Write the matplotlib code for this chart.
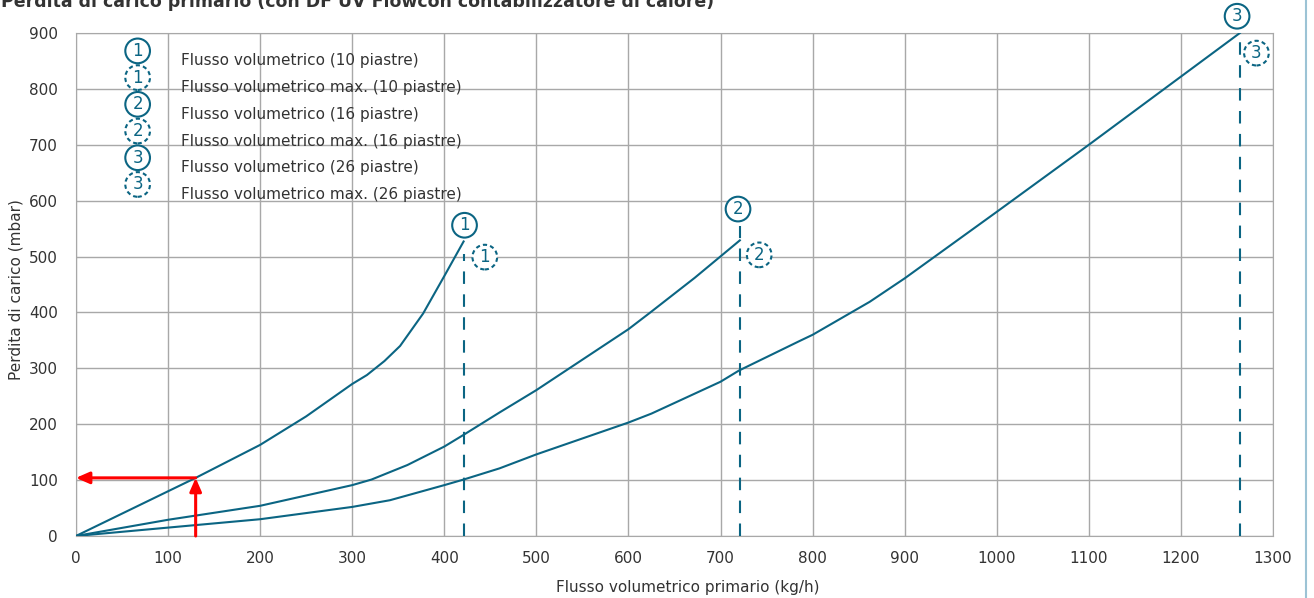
import matplotlib
matplotlib.use('Agg')
import matplotlib.pyplot as plt
from matplotlib.patches import Rectangle
from matplotlib.lines import Line2D

plt.rcParams['font.family'] = ['DejaVu Sans']

BLUE = '#0b6583'
GREY = '#a8a8a8'
TXT = '#333333'

# curve 1: 10 piastre
x10 = [0, 100, 130, 200, 250, 300, 316, 335, 352, 377, 400, 421]
y10 = [0, 80, 104, 163, 214, 272, 288, 313, 340, 398, 465, 527]
# curve 2: 16 piastre
x16 = [0, 100, 200, 300, 321, 360, 400, 421, 460, 500, 600, 623, 672, 721]
y16 = [0, 29, 54, 91, 101, 127, 160, 181, 221, 261, 370, 399, 462, 529]
# curve 3: 26 piastre
x26 = [0, 100, 200, 300, 341, 400, 421, 460, 500, 600, 625, 700, 720, 786, 800, 862, 900, 1000, 1100, 1200, 1264]
y26 = [0, 15, 30, 52, 64, 91, 101, 121, 146, 203, 219, 276, 296, 349, 360, 419, 461, 580, 700, 822, 900]

max_x = [421, 721, 1264]
max_top = [505, 555, 900]

labels_curve = [(422, 556), (719, 585), (1261, 930)]
labels_max = [(444, 499), (742, 503), (1282, 864)]

legend_txt = ['Flusso volumetrico (10 piastre)',
              'Flusso volumetrico max. (10 piastre)',
              'Flusso volumetrico (16 piastre)',
              'Flusso volumetrico max. (16 piastre)',
              'Flusso volumetrico (26 piastre)',
              'Flusso volumetrico max. (26 piastre)']
legend_num = ['1', '1', '2', '2', '3', '3']

read_x, read_y = 130, 104

fig = plt.figure(figsize=(13.14, 5.98), dpi=100)
ax = fig.add_axes([0.0578, 0.1037, 0.911, 0.8411])
ax.set_xlim(0, 1300)
ax.set_ylim(0, 900)
ax.set_xticks(range(0, 1301, 100))
ax.set_yticks(range(0, 901, 100))
ax.grid(True, color=GREY, lw=1, zorder=0)
ax.tick_params(length=0, labelsize=11, labelcolor=TXT)
ax.tick_params(axis='x', pad=11)
ax.tick_params(axis='y', pad=13)
for s in ax.spines.values():
    s.set_color(GREY)
ax.set_xlabel('Flusso volumetrico primario (kg/h)', fontsize=11, color=TXT, va='center')
ax.xaxis.set_label_coords(0.511, -0.103)
ax.set_ylabel('Perdita di carico (mbar)', fontsize=11, color=TXT, va='center')
ax.yaxis.set_label_coords(-0.050, 0.49)

# legend box
ax.add_patch(Rectangle((42, 592), 386, 298, fc='white', ec='none', zorder=1))
for i in range(6):
    yi = 868 - i * 47.8
    ls = '-' if i % 2 == 0 else (0, (2, 1.5))
    ax.text(67, yi, legend_num[i], fontsize=12, color=BLUE, ha='center', va='center', zorder=3,
            bbox=dict(boxstyle='circle,pad=0.2', fc='white', ec=BLUE, lw=1.5, ls=ls))
    ax.text(114, yi - 18, legend_txt[i], fontsize=11, color=TXT, ha='left', va='center', zorder=3)

for xs, ys in [(x10, y10), (x16, y16), (x26, y26)]:
    ax.plot(xs, ys, color=BLUE, lw=1.5, zorder=4)

for xm, yt in zip(max_x, max_top):
    ax.plot([xm, xm], [0, yt], color=BLUE, lw=1.5, ls=(0, (6, 5)), zorder=4)

for i in range(3):
    ax.text(labels_curve[i][0], labels_curve[i][1], str(i + 1), fontsize=12, color=BLUE,
            ha='center', va='center', zorder=5, clip_on=False,
            bbox=dict(boxstyle='circle,pad=0.2', fc='white', ec=BLUE, lw=1.5))
    ax.text(labels_max[i][0], labels_max[i][1], str(i + 1), fontsize=12, color=BLUE,
            ha='center', va='center', zorder=5, clip_on=False,
            bbox=dict(boxstyle='circle,pad=0.2', fc='white', ec=BLUE, lw=1.5, ls=(0, (2, 1.5))))

# reading arrows
ax.annotate('', xy=(read_x, read_y), xytext=(read_x, 0),
            arrowprops=dict(arrowstyle='-|>,head_length=0.8,head_width=0.35', color='red', lw=2.2,
                            shrinkA=0, shrinkB=0), zorder=6)
ax.annotate('', xy=(0, read_y), xytext=(read_x, read_y),
            arrowprops=dict(arrowstyle='-|>,head_length=0.8,head_width=0.35', color='red', lw=2.2,
                            shrinkA=0, shrinkB=0), zorder=6)

fig.text(0.001, 1 - 2 / 598, 'Perdita di carico primario (con DF UV Flowcon contabilizzatore di calore)',
         fontsize=12.5, fontweight='bold', color=TXT, ha='left', va='center')
fig.add_artist(Line2D([1306 / 1314, 1306 / 1314], [0, 1], color='#9cc3d5', lw=1.5))

fig.savefig('out.png', dpi=100)
